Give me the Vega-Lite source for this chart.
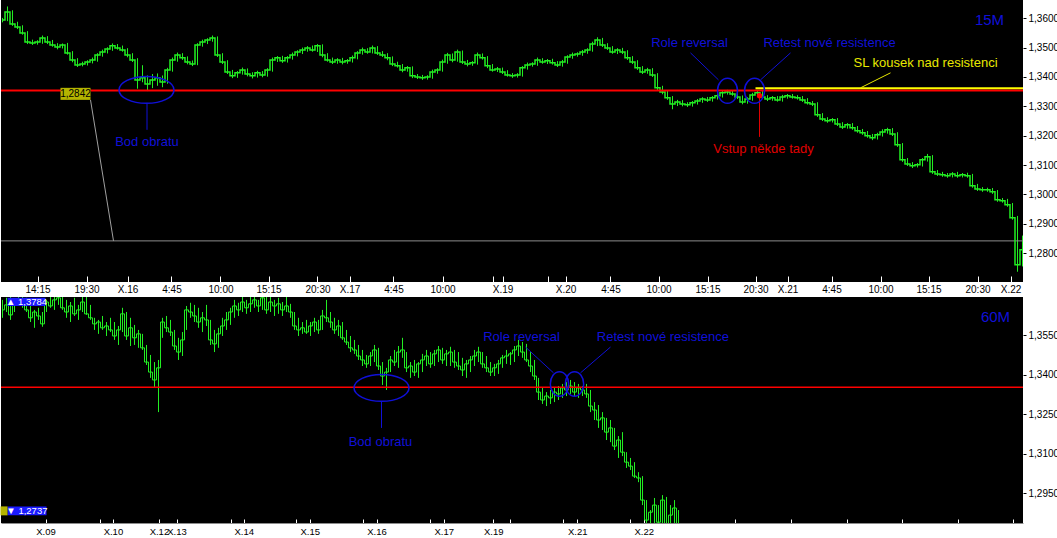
{
"$schema": "https://vega.github.io/schema/vega-lite/v6.json",
"background": "#ffffff",
"padding": 0,
"spacing": 0,
"config": {"view": {"stroke": null, "fill": "#000000"}, "font": "Liberation Sans", "axis": {"labelOverlap": false, "labelFlush": false, "grid": false, "title": null}},
"datasets": {
"top": [
{"t":0,"h":1.3601,"l":1.3586,"c":1.3594},{"t":1,"h":1.3640,"l":1.3590,"c":1.3621},{"t":2,"h":1.3627,"l":1.3574,"c":1.3580},{"t":3,"h":1.3588,"l":1.3563,"c":1.3570},{"t":4,"h":1.3576,"l":1.3544,"c":1.3550},{"t":5,"h":1.3556,"l":1.3512,"c":1.3519},{"t":6,"h":1.3527,"l":1.3509,"c":1.3516},{"t":7,"h":1.3525,"l":1.3510,"c":1.3519},{"t":8,"h":1.3541,"l":1.3513,"c":1.3533},{"t":9,"h":1.3539,"l":1.3512,"c":1.3519},
{"t":10,"h":1.3526,"l":1.3503,"c":1.3509},{"t":11,"h":1.3515,"l":1.3494,"c":1.3502},{"t":12,"h":1.3514,"l":1.3497,"c":1.3509},{"t":13,"h":1.3516,"l":1.3476,"c":1.3482},{"t":14,"h":1.3488,"l":1.3450,"c":1.3458},{"t":15,"h":1.3464,"l":1.3434,"c":1.3441},{"t":16,"h":1.3452,"l":1.3436,"c":1.3444},{"t":17,"h":1.3457,"l":1.3439,"c":1.3451},{"t":18,"h":1.3466,"l":1.3446,"c":1.3458},{"t":19,"h":1.3481,"l":1.3452,"c":1.3475},
{"t":20,"h":1.3493,"l":1.3469,"c":1.3485},{"t":21,"h":1.3501,"l":1.3480,"c":1.3495},{"t":22,"h":1.3514,"l":1.3489,"c":1.3506},{"t":23,"h":1.3512,"l":1.3493,"c":1.3499},{"t":24,"h":1.3507,"l":1.3486,"c":1.3492},{"t":25,"h":1.3498,"l":1.3467,"c":1.3475},{"t":26,"h":1.3481,"l":1.3451,"c":1.3458},{"t":27,"h":1.3464,"l":1.3360,"c":1.3390},{"t":28,"h":1.3440,"l":1.3382,"c":1.3397},{"t":29,"h":1.3405,"l":1.3352,"c":1.3376},
{"t":30,"h":1.3410,"l":1.3362,"c":1.3390},{"t":31,"h":1.3412,"l":1.3370,"c":1.3397},{"t":32,"h":1.3405,"l":1.3365,"c":1.3383},{"t":33,"h":1.3431,"l":1.3377,"c":1.3424},{"t":34,"h":1.3466,"l":1.3418,"c":1.3458},{"t":35,"h":1.3483,"l":1.3452,"c":1.3475},{"t":36,"h":1.3481,"l":1.3458,"c":1.3465},{"t":37,"h":1.3470,"l":1.3443,"c":1.3451},{"t":38,"h":1.3456,"l":1.3437,"c":1.3444},{"t":39,"h":1.3515,"l":1.3440,"c":1.3509},
{"t":40,"h":1.3527,"l":1.3503,"c":1.3519},{"t":41,"h":1.3532,"l":1.3512,"c":1.3526},{"t":42,"h":1.3541,"l":1.3520,"c":1.3533},{"t":43,"h":1.3538,"l":1.3468,"c":1.3475},{"t":44,"h":1.3481,"l":1.3444,"c":1.3451},{"t":45,"h":1.3457,"l":1.3410,"c":1.3417},{"t":46,"h":1.3424,"l":1.3396,"c":1.3404},{"t":47,"h":1.3420,"l":1.3397,"c":1.3414},{"t":48,"h":1.3432,"l":1.3408,"c":1.3424},{"t":49,"h":1.3429,"l":1.3402,"c":1.3410},
{"t":50,"h":1.3416,"l":1.3395,"c":1.3404},{"t":51,"h":1.3421,"l":1.3398,"c":1.3414},{"t":52,"h":1.3420,"l":1.3399,"c":1.3407},{"t":53,"h":1.3430,"l":1.3401,"c":1.3424},{"t":54,"h":1.3466,"l":1.3418,"c":1.3458},{"t":55,"h":1.3471,"l":1.3451,"c":1.3465},{"t":56,"h":1.3472,"l":1.3448,"c":1.3455},{"t":57,"h":1.3471,"l":1.3449,"c":1.3465},{"t":58,"h":1.3483,"l":1.3459,"c":1.3475},{"t":59,"h":1.3491,"l":1.3470,"c":1.3485},
{"t":60,"h":1.3500,"l":1.3478,"c":1.3492},{"t":61,"h":1.3505,"l":1.3486,"c":1.3499},{"t":62,"h":1.3507,"l":1.3486,"c":1.3492},{"t":63,"h":1.3512,"l":1.3485,"c":1.3506},{"t":64,"h":1.3511,"l":1.3467,"c":1.3475},{"t":65,"h":1.3481,"l":1.3452,"c":1.3458},{"t":66,"h":1.3466,"l":1.3444,"c":1.3451},{"t":67,"h":1.3464,"l":1.3445,"c":1.3458},{"t":68,"h":1.3465,"l":1.3443,"c":1.3451},{"t":69,"h":1.3461,"l":1.3445,"c":1.3455},
{"t":70,"h":1.3473,"l":1.3449,"c":1.3465},{"t":71,"h":1.3488,"l":1.3460,"c":1.3482},{"t":72,"h":1.3500,"l":1.3476,"c":1.3492},{"t":73,"h":1.3498,"l":1.3479,"c":1.3485},{"t":74,"h":1.3507,"l":1.3480,"c":1.3499},{"t":75,"h":1.3505,"l":1.3475,"c":1.3482},{"t":76,"h":1.3488,"l":1.3468,"c":1.3475},{"t":77,"h":1.3481,"l":1.3457,"c":1.3465},{"t":78,"h":1.3470,"l":1.3437,"c":1.3444},{"t":79,"h":1.3452,"l":1.3432,"c":1.3438},
{"t":80,"h":1.3444,"l":1.3416,"c":1.3424},{"t":81,"h":1.3437,"l":1.3418,"c":1.3431},{"t":82,"h":1.3436,"l":1.3396,"c":1.3404},{"t":83,"h":1.3410,"l":1.3393,"c":1.3400},{"t":84,"h":1.3407,"l":1.3390,"c":1.3397},{"t":85,"h":1.3406,"l":1.3391,"c":1.3400},{"t":86,"h":1.3425,"l":1.3394,"c":1.3417},{"t":87,"h":1.3430,"l":1.3411,"c":1.3424},{"t":88,"h":1.3459,"l":1.3418,"c":1.3451},{"t":89,"h":1.3482,"l":1.3445,"c":1.3475},
{"t":90,"h":1.3480,"l":1.3450,"c":1.3458},{"t":91,"h":1.3493,"l":1.3452,"c":1.3485},{"t":92,"h":1.3490,"l":1.3444,"c":1.3451},{"t":93,"h":1.3458,"l":1.3436,"c":1.3444},{"t":94,"h":1.3454,"l":1.3438,"c":1.3448},{"t":95,"h":1.3483,"l":1.3442,"c":1.3475},{"t":96,"h":1.3480,"l":1.3459,"c":1.3465},{"t":97,"h":1.3471,"l":1.3430,"c":1.3438},{"t":98,"h":1.3444,"l":1.3418,"c":1.3424},{"t":99,"h":1.3434,"l":1.3417,"c":1.3427},
{"t":100,"h":1.3432,"l":1.3410,"c":1.3417},{"t":101,"h":1.3423,"l":1.3401,"c":1.3407},{"t":102,"h":1.3413,"l":1.3397,"c":1.3404},{"t":103,"h":1.3413,"l":1.3398,"c":1.3407},{"t":104,"h":1.3437,"l":1.3401,"c":1.3431},{"t":105,"h":1.3449,"l":1.3425,"c":1.3441},{"t":106,"h":1.3450,"l":1.3435,"c":1.3444},{"t":107,"h":1.3466,"l":1.3438,"c":1.3458},{"t":108,"h":1.3464,"l":1.3445,"c":1.3451},{"t":109,"h":1.3461,"l":1.3444,"c":1.3455},
{"t":110,"h":1.3462,"l":1.3442,"c":1.3448},{"t":111,"h":1.3454,"l":1.3434,"c":1.3441},{"t":112,"h":1.3458,"l":1.3435,"c":1.3451},{"t":113,"h":1.3474,"l":1.3445,"c":1.3468},{"t":114,"h":1.3483,"l":1.3462,"c":1.3475},{"t":115,"h":1.3484,"l":1.3469,"c":1.3478},{"t":116,"h":1.3492,"l":1.3472,"c":1.3485},{"t":117,"h":1.3498,"l":1.3479,"c":1.3492},{"t":118,"h":1.3520,"l":1.3486,"c":1.3512},{"t":119,"h":1.3535,"l":1.3505,"c":1.3526},
{"t":120,"h":1.3533,"l":1.3502,"c":1.3509},{"t":121,"h":1.3515,"l":1.3492,"c":1.3499},{"t":122,"h":1.3505,"l":1.3479,"c":1.3485},{"t":123,"h":1.3498,"l":1.3478,"c":1.3492},{"t":124,"h":1.3499,"l":1.3478,"c":1.3485},{"t":125,"h":1.3491,"l":1.3458,"c":1.3465},{"t":126,"h":1.3471,"l":1.3444,"c":1.3451},{"t":127,"h":1.3457,"l":1.3424,"c":1.3431},{"t":128,"h":1.3437,"l":1.3410,"c":1.3417},{"t":129,"h":1.3431,"l":1.3411,"c":1.3424},
{"t":130,"h":1.3430,"l":1.3400,"c":1.3407},{"t":131,"h":1.3413,"l":1.3355,"c":1.3363},{"t":132,"h":1.3370,"l":1.3341,"c":1.3349},{"t":133,"h":1.3355,"l":1.3322,"c":1.3329},{"t":134,"h":1.3335,"l":1.3290,"c":1.3308},{"t":135,"h":1.3322,"l":1.3301,"c":1.3315},{"t":136,"h":1.3321,"l":1.3300,"c":1.3308},{"t":137,"h":1.3314,"l":1.3298,"c":1.3305},{"t":138,"h":1.3318,"l":1.3299,"c":1.3312},{"t":139,"h":1.3325,"l":1.3306,"c":1.3318},
{"t":140,"h":1.3331,"l":1.3312,"c":1.3325},{"t":141,"h":1.3332,"l":1.3315,"c":1.3322},{"t":142,"h":1.3335,"l":1.3316,"c":1.3329},{"t":143,"h":1.3343,"l":1.3323,"c":1.3336},{"t":144,"h":1.3352,"l":1.3330,"c":1.3346},{"t":145,"h":1.3356,"l":1.3340,"c":1.3349},{"t":146,"h":1.3355,"l":1.3336,"c":1.3342},{"t":147,"h":1.3348,"l":1.3325,"c":1.3332},{"t":148,"h":1.3337,"l":1.3307,"c":1.3315},{"t":149,"h":1.3331,"l":1.3309,"c":1.3325},
{"t":150,"h":1.3346,"l":1.3319,"c":1.3339},{"t":151,"h":1.3355,"l":1.3333,"c":1.3346},{"t":152,"h":1.3352,"l":1.3326,"c":1.3332},{"t":153,"h":1.3338,"l":1.3318,"c":1.3325},{"t":154,"h":1.3335,"l":1.3319,"c":1.3329},{"t":155,"h":1.3335,"l":1.3316,"c":1.3322},{"t":156,"h":1.3339,"l":1.3316,"c":1.3332},{"t":157,"h":1.3342,"l":1.3326,"c":1.3336},{"t":158,"h":1.3342,"l":1.3326,"c":1.3332},{"t":159,"h":1.3338,"l":1.3323,"c":1.3329},
{"t":160,"h":1.3335,"l":1.3315,"c":1.3322},{"t":161,"h":1.3328,"l":1.3306,"c":1.3312},{"t":162,"h":1.3318,"l":1.3301,"c":1.3308},{"t":163,"h":1.3314,"l":1.3264,"c":1.3271},{"t":164,"h":1.3277,"l":1.3250,"c":1.3257},{"t":165,"h":1.3263,"l":1.3244,"c":1.3251},{"t":166,"h":1.3260,"l":1.3245,"c":1.3254},{"t":167,"h":1.3260,"l":1.3233,"c":1.3240},{"t":168,"h":1.3246,"l":1.3223,"c":1.3230},{"t":169,"h":1.3243,"l":1.3224,"c":1.3237},
{"t":170,"h":1.3243,"l":1.3220,"c":1.3227},{"t":171,"h":1.3233,"l":1.3210,"c":1.3217},{"t":172,"h":1.3223,"l":1.3203,"c":1.3210},{"t":173,"h":1.3216,"l":1.3193,"c":1.3200},{"t":174,"h":1.3206,"l":1.3185,"c":1.3193},{"t":175,"h":1.3210,"l":1.3187,"c":1.3203},{"t":176,"h":1.3222,"l":1.3197,"c":1.3213},{"t":177,"h":1.3227,"l":1.3207,"c":1.3220},{"t":178,"h":1.3226,"l":1.3199,"c":1.3206},{"t":179,"h":1.3212,"l":1.3162,"c":1.3169},
{"t":180,"h":1.3175,"l":1.3111,"c":1.3118},{"t":181,"h":1.3124,"l":1.3097,"c":1.3104},{"t":182,"h":1.3110,"l":1.3090,"c":1.3098},{"t":183,"h":1.3107,"l":1.3092,"c":1.3101},{"t":184,"h":1.3124,"l":1.3095,"c":1.3118},{"t":185,"h":1.3138,"l":1.3112,"c":1.3128},{"t":186,"h":1.3134,"l":1.3070,"c":1.3077},{"t":187,"h":1.3083,"l":1.3063,"c":1.3070},{"t":188,"h":1.3077,"l":1.3060,"c":1.3067},{"t":189,"h":1.3073,"l":1.3057,"c":1.3064},
{"t":190,"h":1.3076,"l":1.3058,"c":1.3070},{"t":191,"h":1.3077,"l":1.3057,"c":1.3064},{"t":192,"h":1.3073,"l":1.3058,"c":1.3067},{"t":193,"h":1.3074,"l":1.3057,"c":1.3064},{"t":194,"h":1.3070,"l":1.3023,"c":1.3030},{"t":195,"h":1.3036,"l":1.3012,"c":1.3019},{"t":196,"h":1.3025,"l":1.3009,"c":1.3016},{"t":197,"h":1.3023,"l":1.3009,"c":1.3016},{"t":198,"h":1.3022,"l":1.3002,"c":1.3009},{"t":199,"h":1.3015,"l":1.2975,"c":1.2982},
{"t":200,"h":1.2988,"l":1.2972,"c":1.2979},{"t":201,"h":1.2985,"l":1.2958,"c":1.2965},{"t":202,"h":1.2971,"l":1.2914,"c":1.2921},{"t":203,"h":1.2927,"l":1.2737,"c":1.2761},{"t":204,"h":1.2860,"l":1.2755,"c":1.2812}
],
"bot": [
{"t":0,"h":1.3685,"l":1.3617,"c":1.3647},{"t":1,"h":1.3693,"l":1.3639,"c":1.3666},{"t":2,"h":1.3723,"l":1.3609,"c":1.3628},{"t":3,"h":1.3685,"l":1.3639,"c":1.3677},{"t":4,"h":1.3723,"l":1.3662,"c":1.3685},{"t":5,"h":1.3700,"l":1.3655,"c":1.3670},{"t":6,"h":1.3693,"l":1.3639,"c":1.3647},{"t":7,"h":1.3666,"l":1.3601,"c":1.3617},{"t":8,"h":1.3647,"l":1.3579,"c":1.3639},{"t":9,"h":1.3655,"l":1.3609,"c":1.3624},
{"t":10,"h":1.3639,"l":1.3583,"c":1.3594},{"t":11,"h":1.3685,"l":1.3639,"c":1.3677},{"t":12,"h":1.3708,"l":1.3655,"c":1.3662},{"t":13,"h":1.3700,"l":1.3647,"c":1.3685},{"t":14,"h":1.3784,"l":1.3666,"c":1.3693},{"t":15,"h":1.3708,"l":1.3647,"c":1.3655},{"t":16,"h":1.3685,"l":1.3617,"c":1.3639},{"t":17,"h":1.3677,"l":1.3601,"c":1.3662},{"t":18,"h":1.3693,"l":1.3624,"c":1.3632},{"t":19,"h":1.3666,"l":1.3609,"c":1.3647},
{"t":20,"h":1.3723,"l":1.3639,"c":1.3677},{"t":21,"h":1.3708,"l":1.3628,"c":1.3632},{"t":22,"h":1.3666,"l":1.3609,"c":1.3617},{"t":23,"h":1.3617,"l":1.3571,"c":1.3594},{"t":24,"h":1.3609,"l":1.3556,"c":1.3601},{"t":25,"h":1.3624,"l":1.3571,"c":1.3579},{"t":26,"h":1.3601,"l":1.3548,"c":1.3586},{"t":27,"h":1.3617,"l":1.3563,"c":1.3571},{"t":28,"h":1.3601,"l":1.3533,"c":1.3548},{"t":29,"h":1.3586,"l":1.3514,"c":1.3571},
{"t":30,"h":1.3655,"l":1.3563,"c":1.3632},{"t":31,"h":1.3639,"l":1.3533,"c":1.3548},{"t":32,"h":1.3617,"l":1.3510,"c":1.3579},{"t":33,"h":1.3590,"l":1.3514,"c":1.3541},{"t":34,"h":1.3571,"l":1.3503,"c":1.3556},{"t":35,"h":1.3556,"l":1.3495,"c":1.3503},{"t":36,"h":1.3514,"l":1.3438,"c":1.3449},{"t":37,"h":1.3476,"l":1.3389,"c":1.3411},{"t":38,"h":1.3449,"l":1.3351,"c":1.3381},{"t":39,"h":1.3457,"l":1.3259,"c":1.3427},
{"t":40,"h":1.3617,"l":1.3541,"c":1.3601},{"t":41,"h":1.3624,"l":1.3563,"c":1.3579},{"t":42,"h":1.3609,"l":1.3548,"c":1.3563},{"t":43,"h":1.3571,"l":1.3495,"c":1.3510},{"t":44,"h":1.3541,"l":1.3457,"c":1.3487},{"t":45,"h":1.3563,"l":1.3472,"c":1.3533},{"t":46,"h":1.3662,"l":1.3571,"c":1.3647},{"t":47,"h":1.3674,"l":1.3617,"c":1.3639},{"t":48,"h":1.3666,"l":1.3601,"c":1.3624},{"t":49,"h":1.3655,"l":1.3579,"c":1.3601},
{"t":50,"h":1.3639,"l":1.3563,"c":1.3617},{"t":51,"h":1.3666,"l":1.3586,"c":1.3609},{"t":52,"h":1.3609,"l":1.3514,"c":1.3533},{"t":53,"h":1.3571,"l":1.3487,"c":1.3518},{"t":54,"h":1.3579,"l":1.3503,"c":1.3556},{"t":55,"h":1.3617,"l":1.3548,"c":1.3586},{"t":56,"h":1.3639,"l":1.3571,"c":1.3609},{"t":57,"h":1.3655,"l":1.3590,"c":1.3639},{"t":58,"h":1.3685,"l":1.3617,"c":1.3662},{"t":59,"h":1.3674,"l":1.3624,"c":1.3647},
{"t":60,"h":1.3708,"l":1.3639,"c":1.3677},{"t":61,"h":1.3685,"l":1.3632,"c":1.3655},{"t":62,"h":1.3700,"l":1.3639,"c":1.3670},{"t":63,"h":1.3742,"l":1.3655,"c":1.3685},{"t":64,"h":1.3685,"l":1.3639,"c":1.3662},{"t":65,"h":1.3761,"l":1.3647,"c":1.3693},{"t":66,"h":1.3700,"l":1.3632,"c":1.3647},{"t":67,"h":1.3723,"l":1.3639,"c":1.3677},{"t":68,"h":1.3685,"l":1.3624,"c":1.3662},{"t":69,"h":1.3693,"l":1.3632,"c":1.3670},
{"t":70,"h":1.3677,"l":1.3624,"c":1.3647},{"t":71,"h":1.3700,"l":1.3639,"c":1.3662},{"t":72,"h":1.3670,"l":1.3617,"c":1.3639},{"t":73,"h":1.3639,"l":1.3571,"c":1.3586},{"t":74,"h":1.3617,"l":1.3548,"c":1.3571},{"t":75,"h":1.3601,"l":1.3556,"c":1.3579},{"t":76,"h":1.3609,"l":1.3556,"c":1.3563},{"t":77,"h":1.3601,"l":1.3548,"c":1.3586},{"t":78,"h":1.3617,"l":1.3563,"c":1.3601},{"t":79,"h":1.3609,"l":1.3556,"c":1.3571},
{"t":80,"h":1.3647,"l":1.3571,"c":1.3624},{"t":81,"h":1.3685,"l":1.3601,"c":1.3617},{"t":82,"h":1.3639,"l":1.3579,"c":1.3601},{"t":83,"h":1.3617,"l":1.3556,"c":1.3571},{"t":84,"h":1.3609,"l":1.3548,"c":1.3586},{"t":85,"h":1.3601,"l":1.3533,"c":1.3541},{"t":86,"h":1.3571,"l":1.3514,"c":1.3525},{"t":87,"h":1.3548,"l":1.3487,"c":1.3503},{"t":88,"h":1.3533,"l":1.3480,"c":1.3495},{"t":89,"h":1.3514,"l":1.3457,"c":1.3472},
{"t":90,"h":1.3495,"l":1.3434,"c":1.3457},{"t":91,"h":1.3476,"l":1.3427,"c":1.3442},{"t":92,"h":1.3487,"l":1.3434,"c":1.3472},{"t":93,"h":1.3514,"l":1.3449,"c":1.3495},{"t":94,"h":1.3503,"l":1.3419,"c":1.3434},{"t":95,"h":1.3449,"l":1.3362,"c":1.3396},{"t":96,"h":1.3427,"l":1.3343,"c":1.3411},{"t":97,"h":1.3472,"l":1.3411,"c":1.3457},{"t":98,"h":1.3495,"l":1.3434,"c":1.3449},{"t":99,"h":1.3510,"l":1.3427,"c":1.3487},
{"t":100,"h":1.3541,"l":1.3465,"c":1.3495},{"t":101,"h":1.3487,"l":1.3411,"c":1.3427},{"t":102,"h":1.3449,"l":1.3389,"c":1.3434},{"t":103,"h":1.3457,"l":1.3396,"c":1.3411},{"t":104,"h":1.3449,"l":1.3389,"c":1.3442},{"t":105,"h":1.3480,"l":1.3411,"c":1.3457},{"t":106,"h":1.3495,"l":1.3434,"c":1.3472},{"t":107,"h":1.3487,"l":1.3427,"c":1.3442},{"t":108,"h":1.3495,"l":1.3434,"c":1.3480},{"t":109,"h":1.3510,"l":1.3449,"c":1.3495},
{"t":110,"h":1.3503,"l":1.3442,"c":1.3457},{"t":111,"h":1.3495,"l":1.3434,"c":1.3480},{"t":112,"h":1.3507,"l":1.3434,"c":1.3487},{"t":113,"h":1.3495,"l":1.3427,"c":1.3449},{"t":114,"h":1.3487,"l":1.3419,"c":1.3434},{"t":115,"h":1.3465,"l":1.3396,"c":1.3419},{"t":116,"h":1.3457,"l":1.3389,"c":1.3442},{"t":117,"h":1.3472,"l":1.3411,"c":1.3457},{"t":118,"h":1.3495,"l":1.3434,"c":1.3472},{"t":119,"h":1.3507,"l":1.3449,"c":1.3487},
{"t":120,"h":1.3487,"l":1.3427,"c":1.3442},{"t":121,"h":1.3472,"l":1.3411,"c":1.3427},{"t":122,"h":1.3449,"l":1.3396,"c":1.3411},{"t":123,"h":1.3442,"l":1.3396,"c":1.3427},{"t":124,"h":1.3457,"l":1.3404,"c":1.3442},{"t":125,"h":1.3476,"l":1.3427,"c":1.3465},{"t":126,"h":1.3495,"l":1.3442,"c":1.3472},{"t":127,"h":1.3487,"l":1.3438,"c":1.3480},{"t":128,"h":1.3510,"l":1.3449,"c":1.3495},{"t":129,"h":1.3533,"l":1.3472,"c":1.3510},
{"t":130,"h":1.3525,"l":1.3465,"c":1.3487},{"t":131,"h":1.3518,"l":1.3449,"c":1.3457},{"t":132,"h":1.3487,"l":1.3411,"c":1.3434},{"t":133,"h":1.3457,"l":1.3381,"c":1.3396},{"t":134,"h":1.3389,"l":1.3305,"c":1.3335},{"t":135,"h":1.3351,"l":1.3290,"c":1.3305},{"t":136,"h":1.3335,"l":1.3282,"c":1.3320},{"t":137,"h":1.3343,"l":1.3290,"c":1.3313},{"t":138,"h":1.3351,"l":1.3297,"c":1.3335},{"t":139,"h":1.3358,"l":1.3305,"c":1.3328},
{"t":140,"h":1.3366,"l":1.3313,"c":1.3351},{"t":141,"h":1.3373,"l":1.3320,"c":1.3343},{"t":142,"h":1.3381,"l":1.3328,"c":1.3358},{"t":143,"h":1.3373,"l":1.3320,"c":1.3335},{"t":144,"h":1.3366,"l":1.3313,"c":1.3351},{"t":145,"h":1.3358,"l":1.3320,"c":1.3343},{"t":146,"h":1.3366,"l":1.3313,"c":1.3328},{"t":147,"h":1.3343,"l":1.3259,"c":1.3282},{"t":148,"h":1.3297,"l":1.3229,"c":1.3267},{"t":149,"h":1.3286,"l":1.3199,"c":1.3229},
{"t":150,"h":1.3259,"l":1.3191,"c":1.3237},{"t":151,"h":1.3237,"l":1.3153,"c":1.3183},{"t":152,"h":1.3229,"l":1.3145,"c":1.3199},{"t":153,"h":1.3199,"l":1.3115,"c":1.3130},{"t":154,"h":1.3168,"l":1.3085,"c":1.3153},{"t":155,"h":1.3183,"l":1.3092,"c":1.3107},{"t":156,"h":1.3107,"l":1.3047,"c":1.3069},{"t":157,"h":1.3085,"l":1.3039,"c":1.3054},{"t":158,"h":1.3069,"l":1.3009,"c":1.3016},{"t":159,"h":1.3031,"l":1.2993,"c":1.3009},
{"t":160,"h":1.3016,"l":1.2906,"c":1.2925},{"t":161,"h":1.2925,"l":1.2773,"c":1.2849},{"t":162,"h":1.2887,"l":1.2737,"c":1.2879},{"t":163,"h":1.2933,"l":1.2811,"c":1.2906},{"t":164,"h":1.2906,"l":1.2773,"c":1.2841},{"t":165,"h":1.2944,"l":1.2792,"c":1.2925},{"t":166,"h":1.2937,"l":1.2773,"c":1.2811},{"t":167,"h":1.2906,"l":1.2754,"c":1.2868},{"t":168,"h":1.2925,"l":1.2773,"c":1.2895},{"t":169,"h":1.2887,"l":1.2754,"c":1.2811}
],
"topNotes": [
{"t":137.4,"p":1.3516,"label":"Role reversal","kind":"note"},
{"t":165.4,"p":1.3516,"label":"Retest nové resistence","kind":"note"},
{"t":28.9,"p":1.3178,"label":"Bod obratu","kind":"note"},
{"t":184.6,"p":1.3448,"label":"SL kousek nad resistenci","kind":"sl"},
{"t":152.2,"p":1.3154,"label":"Vstup někde tady","kind":"entry"}
],
"topLines": [
{"t":28.9,"p":1.3312,"t2":28.9,"p2":1.3220,"kind":"note"},
{"t":137.6,"p":1.3482,"t2":143.2,"p2":1.3390,"kind":"note"},
{"t":157.6,"p":1.3482,"t2":151.6,"p2":1.3390,"kind":"note"},
{"t":177.6,"p":1.3414,"t2":171.6,"p2":1.3363,"kind":"sl"},
{"t":151.4,"p":1.3332,"t2":151.4,"p2":1.3196,"kind":"entry"},
{"t":17.6,"p":1.3322,"t2":22.2,"p2":1.2842,"kind":"gray"}
],
"botNotes": [
{"t":129.75,"p":1.3544,"label":"Role reversal","kind":"note"},
{"t":165.1,"p":1.3544,"label":"Retest nové resistence","kind":"note"},
{"t":94.5,"p":1.3145,"label":"Bod obratu","kind":"note"}
],
"botLines": [
{"t":94.75,"p":1.3301,"t2":94.75,"p2":1.3199,"kind":"note"},
{"t":130.75,"p":1.3506,"t2":137.75,"p2":1.3408,"kind":"note"},
{"t":152,"p":1.3506,"t2":144.5,"p2":1.3408,"kind":"note"}
]
},
"vconcat": [
{
"width": 1022,
"height": 282,
"resolve": {"axis": {"x": "independent", "y": "independent"}},
"layer": [
{"data": {"name": "top"}, "mark": {"type": "rule", "color": "#22ee22", "strokeWidth": 1, "clip": true},
 "encoding": {"x": {"field": "t", "type": "quantitative", "scale": {"domain": [-0.3, 204.1], "nice": false, "zero": false},
  "axis": {"orient": "bottom", "title": null, "values": [7,16.8,25,33.8,43.6,53.2,63,69.4,78.2,88,98,100,109,112.6,121.6,131.2,141,150.6,157,165.8,175.6,185.2,195,201.6], "labelExpr": "['14:15','19:30','X.16','4:45','10:00','15:15','20:30','X.17','4:45','10:00','','X.19','','X.20','4:45','10:00','15:15','20:30','X.21','4:45','10:00','15:15','20:30','X.22'][indexof([7,16.8,25,33.8,43.6,53.2,63,69.4,78.2,88,98,100,109,112.6,121.6,131.2,141,150.6,157,165.8,175.6,185.2,195,201.6], datum.value)]", "tickColor": "#ffffff", "tickSize": -6, "tickWidth": 1, "labelPadding": 8, "labelFontSize": 10, "labelColor": "#000000", "labelFont": "Liberation Sans", "labelBaseline": "top", "labelOverlap": false, "labelFlush": false, "domain": false, "grid": false, "minExtent": 15, "maxExtent": 15}},
  "y": {"field": "l", "type": "quantitative", "scale": {"domain": [1.2702, 1.3662], "nice": false, "zero": false},
  "axis": {"orient": "right", "title": null, "values": [1.27,1.28,1.29,1.3,1.31,1.32,1.33,1.34,1.35,1.36], "labelExpr": "replace(format(datum.value,'.4f'),'.',',')", "tickColor": "#000000", "tickSize": 3, "labelPadding": 2, "labelFontSize": 10, "labelColor": "#000000", "labelFont": "Liberation Sans", "labelOverlap": false, "labelFlush": false, "domain": false, "grid": false}},
  "y2": {"field": "h"}}},
{"data": {"values": [{"p": 1.2842}]}, "mark": {"type": "rule", "color": "#8c8c8c", "strokeWidth": 1},
 "encoding": {"y": {"field": "p", "type": "quantitative", "axis": null}}},
{"data": {"name": "top"}, "mark": {"type": "line", "interpolate": "step", "color": "#22ee22", "strokeWidth": 1.5, "clip": true},
 "encoding": {"x": {"field": "t", "type": "quantitative", "axis": null}, "y": {"field": "c", "type": "quantitative", "axis": null}}},
{"data": {"values": [{"p": 1.3354}]}, "mark": {"type": "rule", "color": "#ff0000", "strokeWidth": 2},
 "encoding": {"y": {"field": "p", "type": "quantitative", "axis": null}}},
{"data": {"values": [{"t": 150.6, "t2": 204.1, "p": 1.3362}]}, "mark": {"type": "rule", "color": "#ffff00", "strokeWidth": 2},
 "encoding": {"x": {"field": "t", "type": "quantitative", "axis": null}, "x2": {"field": "t2"}, "y": {"field": "p", "type": "quantitative", "axis": null}}},
{"data": {"name": "topLines"}, "mark": {"type": "rule", "strokeWidth": 1},
 "encoding": {"x": {"field": "t", "type": "quantitative", "axis": null}, "x2": {"field": "t2"}, "y": {"field": "p", "type": "quantitative", "axis": null}, "y2": {"field": "p2"},
  "color": {"field": "kind", "type": "nominal", "legend": null, "scale": {"domain": ["note","sl","entry","gray"], "range": ["#1010d8","#e8e800","#e00000","#a0a0a0"]}}}},
{"data": {"values": [{"t": 11.6, "t2": 17.6, "p": 1.3363, "p2": 1.3322}]}, "mark": {"type": "rect", "color": "#b4b400"},
 "encoding": {"x": {"field": "t", "type": "quantitative", "axis": null}, "x2": {"field": "t2"}, "y": {"field": "p", "type": "quantitative", "axis": null}, "y2": {"field": "p2"}}},
{"data": {"values": [{"t": 14.6, "p": 1.3342, "label": "1,2842"}]}, "mark": {"type": "text", "color": "#000000", "fontSize": 10, "font": "Liberation Sans", "align": "center", "baseline": "middle"},
 "encoding": {"x": {"field": "t", "type": "quantitative", "axis": null}, "y": {"field": "p", "type": "quantitative", "axis": null}, "text": {"field": "label"}}},
{"data": {"values": [{"t": 28.8, "p": 1.3356}]}, "mark": {"type": "point", "shape": "M-1,0A1,0.49 0 1,1 1,0A1,0.49 0 1,1 -1,0Z", "size": 3025, "filled": false, "color": "#1010d8", "strokeWidth": 1.5, "opacity": 1},
 "encoding": {"x": {"field": "t", "type": "quantitative", "axis": null}, "y": {"field": "p", "type": "quantitative", "axis": null}}},
{"data": {"values": [{"t": 145, "p": 1.3353}, {"t": 150.4, "p": 1.3353}]}, "mark": {"type": "point", "shape": "M0,-1A0.8,1 0 1,1 0,1A0.8,1 0 1,1 0,-1Z", "size": 625, "filled": false, "color": "#1010d8", "strokeWidth": 1.5, "opacity": 1},
 "encoding": {"x": {"field": "t", "type": "quantitative", "axis": null}, "y": {"field": "p", "type": "quantitative", "axis": null}}},
{"data": {"values": [{"t": 151.4, "p": 1.3336}]}, "mark": {"type": "point", "shape": "circle", "size": 28, "filled": true, "color": "#ff0000", "opacity": 1},
 "encoding": {"x": {"field": "t", "type": "quantitative", "axis": null}, "y": {"field": "p", "type": "quantitative", "axis": null}}},
{"data": {"name": "topNotes"}, "mark": {"type": "text", "fontSize": 13, "font": "Liberation Sans", "align": "center", "baseline": "middle"},
 "encoding": {"x": {"field": "t", "type": "quantitative", "axis": null}, "y": {"field": "p", "type": "quantitative", "axis": null}, "text": {"field": "label"},
  "color": {"field": "kind", "type": "nominal", "legend": null, "scale": {"domain": ["note","sl","entry","gray"], "range": ["#1010d8","#e8e800","#e00000","#a0a0a0"]}}}},
{"data": {"values": [{"t": 197.4, "p": 1.3594, "label": "15M"}]}, "mark": {"type": "text", "fontSize": 15, "font": "Liberation Sans", "align": "center", "baseline": "middle", "color": "#1010d8"},
 "encoding": {"x": {"field": "t", "type": "quantitative", "axis": null}, "y": {"field": "p", "type": "quantitative", "axis": null}, "text": {"field": "label"}}}
]
},
{
"width": 1022,
"height": 226,
"resolve": {"axis": {"x": "independent", "y": "independent"}},
"layer": [
{"data": {"name": "bot"}, "mark": {"type": "rule", "color": "#22ee22", "strokeWidth": 1, "clip": true},
 "encoding": {"x": {"field": "t", "type": "quantitative", "scale": {"domain": [-0.375, 255.125], "nice": false, "zero": false},
  "axis": {"orient": "bottom", "title": null, "values": [10.75,24.25,27.6,39.1,43.5,57,60.3,73.4,76.8,90.2,93.5,106.8,110.3,122.7,126.8,140.2,143.7,156.8,160.3,183,197,211,224.75,238.75,252.5], "labelExpr": "['X.09','','X.10','X.12','X.13','','X.14','','X.15','','X.16','','X.17','X.19','','','X.21','','X.22','','','','','',''][indexof([10.75,24.25,27.6,39.1,43.5,57,60.3,73.4,76.8,90.2,93.5,106.8,110.3,122.7,126.8,140.2,143.7,156.8,160.3,183,197,211,224.75,238.75,252.5], datum.value)]", "tickColor": "#ffffff", "tickSize": -4, "tickWidth": 1, "labelPadding": 7, "labelFontSize": 9.5, "labelColor": "#000000", "labelFont": "Liberation Sans", "labelBaseline": "top", "labelOverlap": false, "labelFlush": false, "domain": true, "domainColor": "#8c8c8c", "grid": false, "minExtent": 15, "maxExtent": 15}},
  "y": {"field": "l", "type": "quantitative", "scale": {"domain": [1.2838, 1.3696], "nice": false, "zero": false},
  "axis": {"orient": "right", "title": null, "values": [1.295,1.31,1.325,1.34,1.355], "labelExpr": "replace(format(datum.value,'.4f'),'.',',')", "tickColor": "#000000", "tickSize": 3, "labelPadding": 2, "labelFontSize": 10, "labelColor": "#000000", "labelFont": "Liberation Sans", "labelOverlap": false, "labelFlush": false, "domain": false, "grid": false}},
  "y2": {"field": "h"}}},
{"data": {"name": "bot"}, "mark": {"type": "line", "interpolate": "step", "color": "#22ee22", "strokeWidth": 1, "clip": true},
 "encoding": {"x": {"field": "t", "type": "quantitative", "axis": null}, "y": {"field": "c", "type": "quantitative", "axis": null}}},
{"data": {"values": [{"p": 1.3353}]}, "mark": {"type": "rule", "color": "#ff0000", "strokeWidth": 1.5},
 "encoding": {"y": {"field": "p", "type": "quantitative", "axis": null}}},
{"data": {"name": "botLines"}, "mark": {"type": "rule", "strokeWidth": 1, "color": "#1010d8"},
 "encoding": {"x": {"field": "t", "type": "quantitative", "axis": null}, "x2": {"field": "t2"}, "y": {"field": "p", "type": "quantitative", "axis": null}, "y2": {"field": "p2"}}},
{"data": {"values": [{"t": 94.75, "p": 1.3351}]}, "mark": {"type": "point", "shape": "M-1,0A1,0.49 0 1,1 1,0A1,0.49 0 1,1 -1,0Z", "size": 3025, "filled": false, "color": "#1010d8", "strokeWidth": 1.5, "opacity": 1},
 "encoding": {"x": {"field": "t", "type": "quantitative", "axis": null}, "y": {"field": "p", "type": "quantitative", "axis": null}}},
{"data": {"values": [{"t": 139.25, "p": 1.3366}, {"t": 143, "p": 1.3366}]}, "mark": {"type": "point", "shape": "M0,-1A0.75,1 0 1,1 0,1A0.75,1 0 1,1 0,-1Z", "size": 600, "filled": false, "color": "#1010d8", "strokeWidth": 1.5, "opacity": 1},
 "encoding": {"x": {"field": "t", "type": "quantitative", "axis": null}, "y": {"field": "p", "type": "quantitative", "axis": null}}},
{"data": {"name": "botNotes"}, "mark": {"type": "text", "fontSize": 13, "font": "Liberation Sans", "align": "center", "baseline": "middle", "color": "#1010d8"},
 "encoding": {"x": {"field": "t", "type": "quantitative", "axis": null}, "y": {"field": "p", "type": "quantitative", "axis": null}, "text": {"field": "label"}}},
{"data": {"values": [{"t": 248.25, "p": 1.3620, "label": "60M"}]}, "mark": {"type": "text", "fontSize": 15, "font": "Liberation Sans", "align": "center", "baseline": "middle", "color": "#1010d8"},
 "encoding": {"x": {"field": "t", "type": "quantitative", "axis": null}, "y": {"field": "p", "type": "quantitative", "axis": null}, "text": {"field": "label"}}},
{"data": {"values": [{"t": 1.25, "t2": 10.75, "p": 1.3693, "p2": 1.3662}, {"t": 1.25, "t2": 11, "p": 1.2901, "p2": 1.2867}]}, "mark": {"type": "rect", "color": "#1a1aff"},
 "encoding": {"x": {"field": "t", "type": "quantitative", "axis": null}, "x2": {"field": "t2"}, "y": {"field": "p", "type": "quantitative", "axis": null}, "y2": {"field": "p2"}}},
{"data": {"values": [{"t": -0.5, "t2": 1.25, "p": 1.2901, "p2": 1.2867}]}, "mark": {"type": "rect", "color": "#b4b400"},
 "encoding": {"x": {"field": "t", "type": "quantitative", "axis": null}, "x2": {"field": "t2"}, "y": {"field": "p", "type": "quantitative", "axis": null}, "y2": {"field": "p2"}}},
{"data": {"values": [{"t": 6, "p": 1.3677, "label": "▲ 1,3784"}, {"t": 6.1, "p": 1.2884, "label": "▼ 1,2737"}]}, "mark": {"type": "text", "fontSize": 9.5, "font": "Liberation Sans", "align": "center", "baseline": "middle", "color": "#ffffff"},
 "encoding": {"x": {"field": "t", "type": "quantitative", "axis": null}, "y": {"field": "p", "type": "quantitative", "axis": null}, "text": {"field": "label"}}}
]
}
]
}
